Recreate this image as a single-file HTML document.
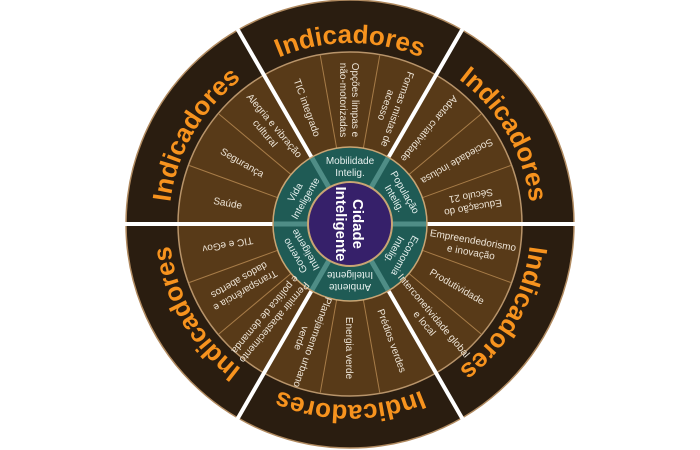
<!DOCTYPE html>
<html><head><meta charset="utf-8"><style>
html,body{margin:0;padding:0;background:#fff;width:700px;height:450px;overflow:hidden}
svg{display:block}
.it{font-family:"Liberation Sans",sans-serif;font-size:10px;fill:#ede4d6;text-anchor:middle}
.tl{font-family:"Liberation Sans",sans-serif;font-size:10px;fill:#e6f0ee;text-anchor:middle}
.ind{font-family:"Liberation Sans",sans-serif;font-weight:bold;font-size:26px;fill:#f7931e;letter-spacing:0px}
</style></head><body>
<svg width="700" height="450" viewBox="0 0 700 450">
<g transform="translate(350,224)">
<circle r="224" fill="#2a1d10" stroke="#b08a60" stroke-width="1.5"/>
<circle r="172" fill="#583a18" stroke="#b8946a" stroke-width="1.5"/>
<g stroke="#a77c48" stroke-width="1">
<line x1="0" y1="-77" x2="0" y2="-171" transform="rotate(10)"/>
<line x1="0" y1="-77" x2="0" y2="-171" transform="rotate(50)"/>
<line x1="0" y1="-77" x2="0" y2="-171" transform="rotate(70)"/>
<line x1="0" y1="-77" x2="0" y2="-171" transform="rotate(110)"/>
<line x1="0" y1="-77" x2="0" y2="-171" transform="rotate(130)"/>
<line x1="0" y1="-77" x2="0" y2="-171" transform="rotate(170)"/>
<line x1="0" y1="-77" x2="0" y2="-171" transform="rotate(190)"/>
<line x1="0" y1="-77" x2="0" y2="-171" transform="rotate(230)"/>
<line x1="0" y1="-77" x2="0" y2="-171" transform="rotate(250)"/>
<line x1="0" y1="-77" x2="0" y2="-171" transform="rotate(290)"/>
<line x1="0" y1="-77" x2="0" y2="-171" transform="rotate(310)"/>
<line x1="0" y1="-77" x2="0" y2="-171" transform="rotate(350)"/>
</g>
<g stroke="#ffffff" stroke-width="4">
<line x1="0" y1="-76" x2="0" y2="-225" transform="rotate(30)"/>
<line x1="0" y1="-76" x2="0" y2="-225" transform="rotate(90)"/>
<line x1="0" y1="-76" x2="0" y2="-225" transform="rotate(150)"/>
<line x1="0" y1="-76" x2="0" y2="-225" transform="rotate(210)"/>
<line x1="0" y1="-76" x2="0" y2="-225" transform="rotate(270)"/>
<line x1="0" y1="-76" x2="0" y2="-225" transform="rotate(330)"/>
</g>
<circle r="77" fill="#1f5b55" stroke="#c9a574" stroke-width="1.5"/>
<g stroke="#4f8d86" stroke-width="5">
<line x1="0" y1="-42" x2="0" y2="-76" transform="rotate(30)"/>
<line x1="0" y1="-42" x2="0" y2="-76" transform="rotate(90)"/>
<line x1="0" y1="-42" x2="0" y2="-76" transform="rotate(150)"/>
<line x1="0" y1="-42" x2="0" y2="-76" transform="rotate(210)"/>
<line x1="0" y1="-42" x2="0" y2="-76" transform="rotate(270)"/>
<line x1="0" y1="-42" x2="0" y2="-76" transform="rotate(330)"/>
</g>
<circle r="42" fill="#36206a" stroke="#c9a574" stroke-width="2"/>
<g transform="rotate(90)" font-family="Liberation Sans, sans-serif" font-weight="bold" font-size="15" fill="#fff" text-anchor="middle">
<text x="0" y="-3">Cidade</text>
<text x="0" y="14">Inteligente</text>
</g>
<g transform="rotate(0) translate(0,-58)"><text class="tl" y="-2">Mobilidade</text><text class="tl" y="10">Intelig.</text></g>
<g transform="rotate(60) translate(0,-58)"><text class="tl" y="-2">População</text><text class="tl" y="10">Intelig.</text></g>
<g transform="rotate(120) translate(0,-58)"><text class="tl" y="-2">Economia</text><text class="tl" y="10">Intelig.</text></g>
<g transform="rotate(180) translate(0,-58)"><text class="tl" y="-2">Ambiente</text><text class="tl" y="10">Inteligente</text></g>
<g transform="rotate(240) translate(0,-58)"><text class="tl" y="-2">Governo</text><text class="tl" y="10">Inteligente</text></g>
<g transform="rotate(300) translate(0,-58)"><text class="tl" y="-2">Vida</text><text class="tl" y="10">Inteligente</text></g>
<g transform="rotate(-20) translate(0,-124) rotate(90)"><text class="it" y="4">TIC integrado</text></g>
<g transform="rotate(0) translate(0,-124) rotate(90)"><text class="it" y="-2">Opções limpas e</text><text class="it" y="10">não-motorizadas</text></g>
<g transform="rotate(20) translate(0,-124) rotate(90)"><text class="it" y="-2">Formas mistas de</text><text class="it" y="10">acesso</text></g>
<g transform="rotate(40) translate(0,-124) rotate(90)"><text class="it" y="4">Adotar criatividade</text></g>
<g transform="rotate(60) translate(0,-124) rotate(90)"><text class="it" y="4">Sociedade inclusa</text></g>
<g transform="rotate(80) translate(0,-124) rotate(90)"><text class="it" y="-2">Educação do</text><text class="it" y="10">Século 21</text></g>
<g transform="rotate(280) translate(0,-124) rotate(90)"><text class="it" y="4">Saúde</text></g>
<g transform="rotate(300) translate(0,-124) rotate(90)"><text class="it" y="4">Segurança</text></g>
<g transform="rotate(320) translate(0,-124) rotate(90)"><text class="it" y="-2">Alegria e vibração</text><text class="it" y="10">cultural</text></g>
<g transform="rotate(100) translate(0,-124) rotate(-90)"><text class="it" y="-2">Empreendedorismo</text><text class="it" y="10">e inovação</text></g>
<g transform="rotate(120) translate(0,-124) rotate(-90)"><text class="it" y="4">Produtividade</text></g>
<g transform="rotate(140) translate(0,-124) rotate(-90)"><text class="it" y="-2">Interconetividade global</text><text class="it" y="10">e local</text></g>
<g transform="rotate(160) translate(0,-124) rotate(-90)"><text class="it" y="4">Prédios verdes</text></g>
<g transform="rotate(180) translate(0,-124) rotate(-90)"><text class="it" y="4">Energia verde</text></g>
<g transform="rotate(200) translate(0,-124) rotate(-90)"><text class="it" y="-2">Planejamento urbano</text><text class="it" y="10">verde</text></g>
<g transform="rotate(220) translate(0,-124) rotate(-90)"><text class="it" y="-2">Permitir abastecimento</text><text class="it" y="10">e política de demanda</text></g>
<g transform="rotate(240) translate(0,-124) rotate(-90)"><text class="it" y="-2">Transparência e</text><text class="it" y="10">dados abertos</text></g>
<g transform="rotate(260) translate(0,-124) rotate(-90)"><text class="it" y="4">TIC e eGov</text></g>
<path id="ring" d="M -90.5,156.76 A 181 181 0 1 1 90.5,-156.76 A 181 181 0 1 1 -90.5,156.76" fill="none"/>
<text class="ind" text-anchor="middle"><textPath href="#ring" startOffset="8.333%">Indicadores</textPath></text>
<text class="ind" text-anchor="middle"><textPath href="#ring" startOffset="25%">Indicadores</textPath></text>
<text class="ind" text-anchor="middle"><textPath href="#ring" startOffset="41.667%">Indicadores</textPath></text>
<text class="ind" text-anchor="middle"><textPath href="#ring" startOffset="58.333%">Indicadores</textPath></text>
<text class="ind" text-anchor="middle"><textPath href="#ring" startOffset="75%">Indicadores</textPath></text>
<text class="ind" text-anchor="middle"><textPath href="#ring" startOffset="91.667%">Indicadores</textPath></text>
</g>
</svg>
</body></html>
